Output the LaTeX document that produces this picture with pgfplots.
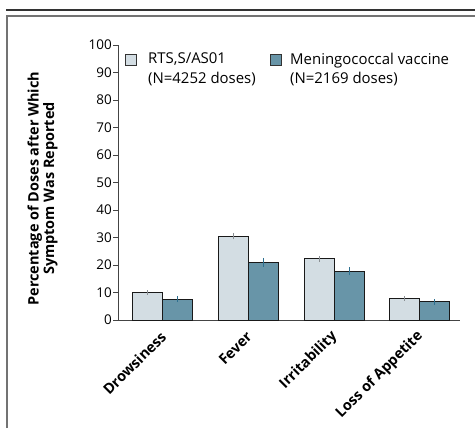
\documentclass[border=0pt]{standalone}
\usepackage{pgfplots}
\pgfplotsset{compat=1.18}
\usepackage{fontspec}
\setmainfont{Open Sans}
\definecolor{barA}{HTML}{D3DDE3}
\definecolor{barB}{HTML}{6895A8}
\definecolor{errA}{HTML}{8A8F93}
\definecolor{errB}{HTML}{2E7090}
\definecolor{axisc}{HTML}{444444}
\begin{document}
\begin{tikzpicture}[x=1bp,y=1bp]
\useasboundingbox (0,0) rectangle (475,428);
\draw[line width=1.3bp, color=black!80] (6,418) -- (475,418);
\draw[line width=1.5bp, color=black!55] (7,0) -- (7,412) -- (475,412);
\begin{axis}[
  at={(118bp,108bp)}, anchor=south west,
  scale only axis, width=342bp, height=275bp,
  ymin=0, ymax=100, xmin=-0.52, xmax=3.47,
  axis lines=left, axis line style={color=axisc, line width=1bp, -},
  ytick={0,10,...,100},
  xtick={0,1,2,3},
  xticklabels={Drowsiness,Fever,Irritability,Loss of Appetite},
  x tick style={draw=none},
  y tick style={color=axisc, line width=0.8bp},
  tick align=outside, major tick length=5bp,
  yticklabel style={font=\fontsize{13.5}{15}\selectfont, inner sep=1bp},
  /pgf/number format/assume math mode=true,
  xticklabel style={font=\bfseries\fontsize{14.5}{16}\selectfont, yshift=-9bp, xshift=1bp, rotate=45, anchor=east, inner sep=0bp},
  ylabel={Percentage of Doses after Which\\Symptom Was Reported},
  ylabel style={font=\bfseries\fontsize{14.5}{15.5}\selectfont, align=center, at={(axis description cs:-0.2208,0.478)}, anchor=center},
  ybar=0pt, bar width=30bp,
  every axis plot/.append style={draw=black!90, line width=1bp},
  clip=false,
]
\addplot[fill=barA, error bars/.cd, y dir=both, y explicit, error bar style={color=errA, line width=1bp}, error mark=none]
  coordinates {(0,10.0) +- (0,0.8) (1,30.5) +- (0,1.2) (2,22.2) +- (0,1.1) (3,7.8) +- (0,0.8)};
\addplot[fill=barB, error bars/.cd, y dir=both, y explicit, error bar style={color=errB, line width=1bp}, error mark=none]
  coordinates {(0,7.6) +- (0,1.1) (1,21.0) +- (0,1.6) (2,17.7) +- (0,1.5) (3,6.6) +- (0,1.0)};
\end{axis}
\node[draw=black!80, fill=barA, line width=0.8bp, minimum size=11bp, inner sep=0pt, anchor=north west] at (125,374) {};
\node[anchor=north west, align=left, inner sep=0pt, font=\fontsize{15}{20}\selectfont] at (148,375.5) {RTS,S/AS01\\(N=4252 doses)};
\node[draw=black!80, fill=barB, line width=0.8bp, minimum size=11bp, inner sep=0pt, anchor=north west] at (270,374) {};
\node[anchor=north west, align=left, inner sep=0pt, font=\fontsize{15}{20}\selectfont] at (290,375.5) {Meningococcal vaccine\\(N=2169 doses)};
\end{tikzpicture}
\end{document}
